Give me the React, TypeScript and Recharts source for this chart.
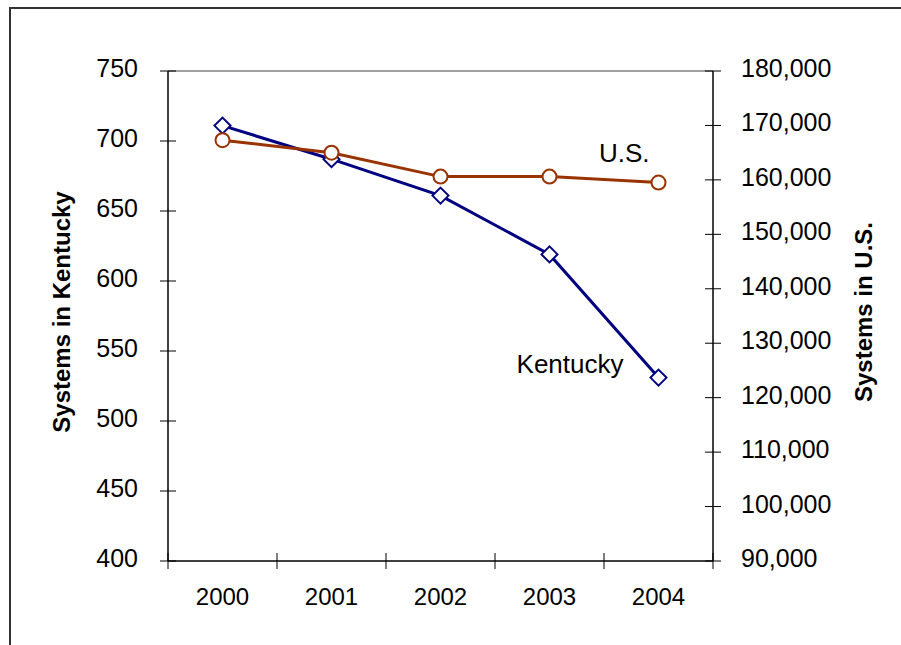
import React from 'react';
import { LineChart, Line, XAxis, YAxis, ReferenceLine, LabelList } from 'recharts';

// values
const years = ['2000', '2001', '2002', '2003', '2004'];
const kentuckySystems = [711, 687, 661, 619, 531];
const usSystems = [167300, 165000, 160600, 160600, 159500];
const kentuckyTicks = [400, 450, 500, 550, 600, 650, 700, 750];
const usTicks = [90000, 100000, 110000, 120000, 130000, 140000, 150000, 160000, 170000, 180000];

const data = years.map((year, i) => ({ year, kentucky: kentuckySystems[i], us: usSystems[i] }));

const W = 901;
const H = 645;
const LEFT_W = 168;
const RIGHT_W = 188;
const TOP = 71;
const X_H = 84;
const BAND = (W - LEFT_W - RIGHT_W) / years.length;
const FONT = '"Liberation Sans", Arial, sans-serif';
const FS = 24;
const TICK_FS = 25;
const NOTE_FS = 26;
const NAVY = '#000080';
const BROWN = '#993300';

const LeftTick = ({ x, y, payload }: any) => (
  <g>
    <line x1={x - 8} x2={x + 8} y1={y} y2={y} stroke="#000" />
    <text x={x - 30} y={y + 6} textAnchor="end" fontSize={TICK_FS} fontFamily={FONT} fill="#000">
      {payload.value}
    </text>
  </g>
);

const RightTick = ({ x, y, payload }: any) => (
  <g>
    <line x1={x - 8} x2={x + 8} y1={y} y2={y} stroke="#000" />
    <text x={x + 28} y={y + 6} textAnchor="start" fontSize={TICK_FS} fontFamily={FONT} fill="#000">
      {Number(payload.value).toLocaleString('en-US')}
    </text>
  </g>
);

// category labels sit in the middle of each band, tick marks on the band edges
const YearTick = ({ x, y, payload, index }: any) => (
  <g>
    <line x1={x - BAND / 2} x2={x - BAND / 2} y1={y - 8} y2={y + 8} stroke="#000" />
    {index === years.length - 1 && (
      <line x1={x + BAND / 2} x2={x + BAND / 2} y1={y - 8} y2={y + 8} stroke="#000" />
    )}
    <text x={x} y={y + 44} textAnchor="middle" fontSize={FS} fontFamily={FONT} fill="#000">
      {payload.value}
    </text>
  </g>
);

const axisTitle = (text: string, dx: number) => (props: any) => {
  const vb = props.viewBox;
  const cx = vb.x + dx;
  const cy = vb.y + vb.height / 2 - 4;
  return (
    <text
      x={cx}
      y={cy}
      transform={`rotate(-90 ${cx} ${cy})`}
      textAnchor="middle"
      fontSize={FS}
      fontWeight="bold"
      fontFamily={FONT}
      fill="#000"
    >
      {text}
    </text>
  );
};

const Diamond = ({ cx, cy }: any) => (
  <path
    d={`M${cx},${cy - 8} L${cx + 8},${cy} L${cx},${cy + 8} L${cx - 8},${cy} Z`}
    fill="#fff"
    stroke={NAVY}
    strokeWidth={2}
  />
);

const Ring = ({ cx, cy }: any) => <circle cx={cx} cy={cy} r={7} fill="#fff" stroke={BROWN} strokeWidth={2} />;

const seriesName = (text: string, at: number, dx: number, dy: number) => (props: any) =>
  props.index === at ? (
    <text x={props.x + dx} y={props.y + dy} textAnchor="end" fontSize={NOTE_FS} fontFamily={FONT} fill="#000">
      {text}
    </text>
  ) : null;

export default function App() {
  return (
    <div style={{ position: 'absolute', left: 0, top: 0, width: W, height: H, background: '#fff', fontFamily: FONT }}>
      <div
        style={{
          position: 'absolute',
          left: 9,
          top: 7,
          width: W - 11,
          height: H - 9,
          borderTop: '2px solid #333',
          borderLeft: '2px solid #333',
        }}
      />
      <LineChart width={W} height={H} data={data} margin={{ top: TOP, right: 0, bottom: 0, left: 0 }}>
        <XAxis
          dataKey="year"
          height={X_H}
          interval={0}
          padding={{ left: BAND / 2, right: BAND / 2 }}
          tickSize={0}
          tickMargin={0}
          tickLine={false}
          tick={<YearTick />}
          axisLine={{ stroke: '#000', strokeWidth: 1.5 }}
        />
        <YAxis
          yAxisId="ky"
          orientation="left"
          width={LEFT_W}
          domain={[400, 750]}
          ticks={kentuckyTicks}
          interval={0}
          tickSize={0}
          tickMargin={0}
          tickLine={false}
          tick={<LeftTick />}
          axisLine={{ stroke: '#000', strokeWidth: 1.5 }}
          label={{ content: axisTitle('Systems in Kentucky', 70) }}
        />
        <YAxis
          yAxisId="us"
          orientation="right"
          width={RIGHT_W}
          domain={[90000, 180000]}
          ticks={usTicks}
          interval={0}
          tickSize={0}
          tickMargin={0}
          tickLine={false}
          tick={<RightTick />}
          axisLine={{ stroke: '#000', strokeWidth: 1.5 }}
          label={{ content: axisTitle('Systems in U.S.', 159) }}
        />
        <ReferenceLine yAxisId="ky" y={750} stroke="#808080" strokeWidth={1.5} />
        <Line
          yAxisId="ky"
          dataKey="kentucky"
          stroke={NAVY}
          strokeWidth={3}
          dot={<Diamond />}
          isAnimationActive={false}
        >
          <LabelList content={seriesName('Kentucky', 4, -35, -5)} />
        </Line>
        <Line
          yAxisId="us"
          dataKey="us"
          stroke={BROWN}
          strokeWidth={3}
          dot={<Ring />}
          isAnimationActive={false}
        >
          <LabelList content={seriesName('U.S.', 4, -9, -21)} />
        </Line>
      </LineChart>
    </div>
  );
}
